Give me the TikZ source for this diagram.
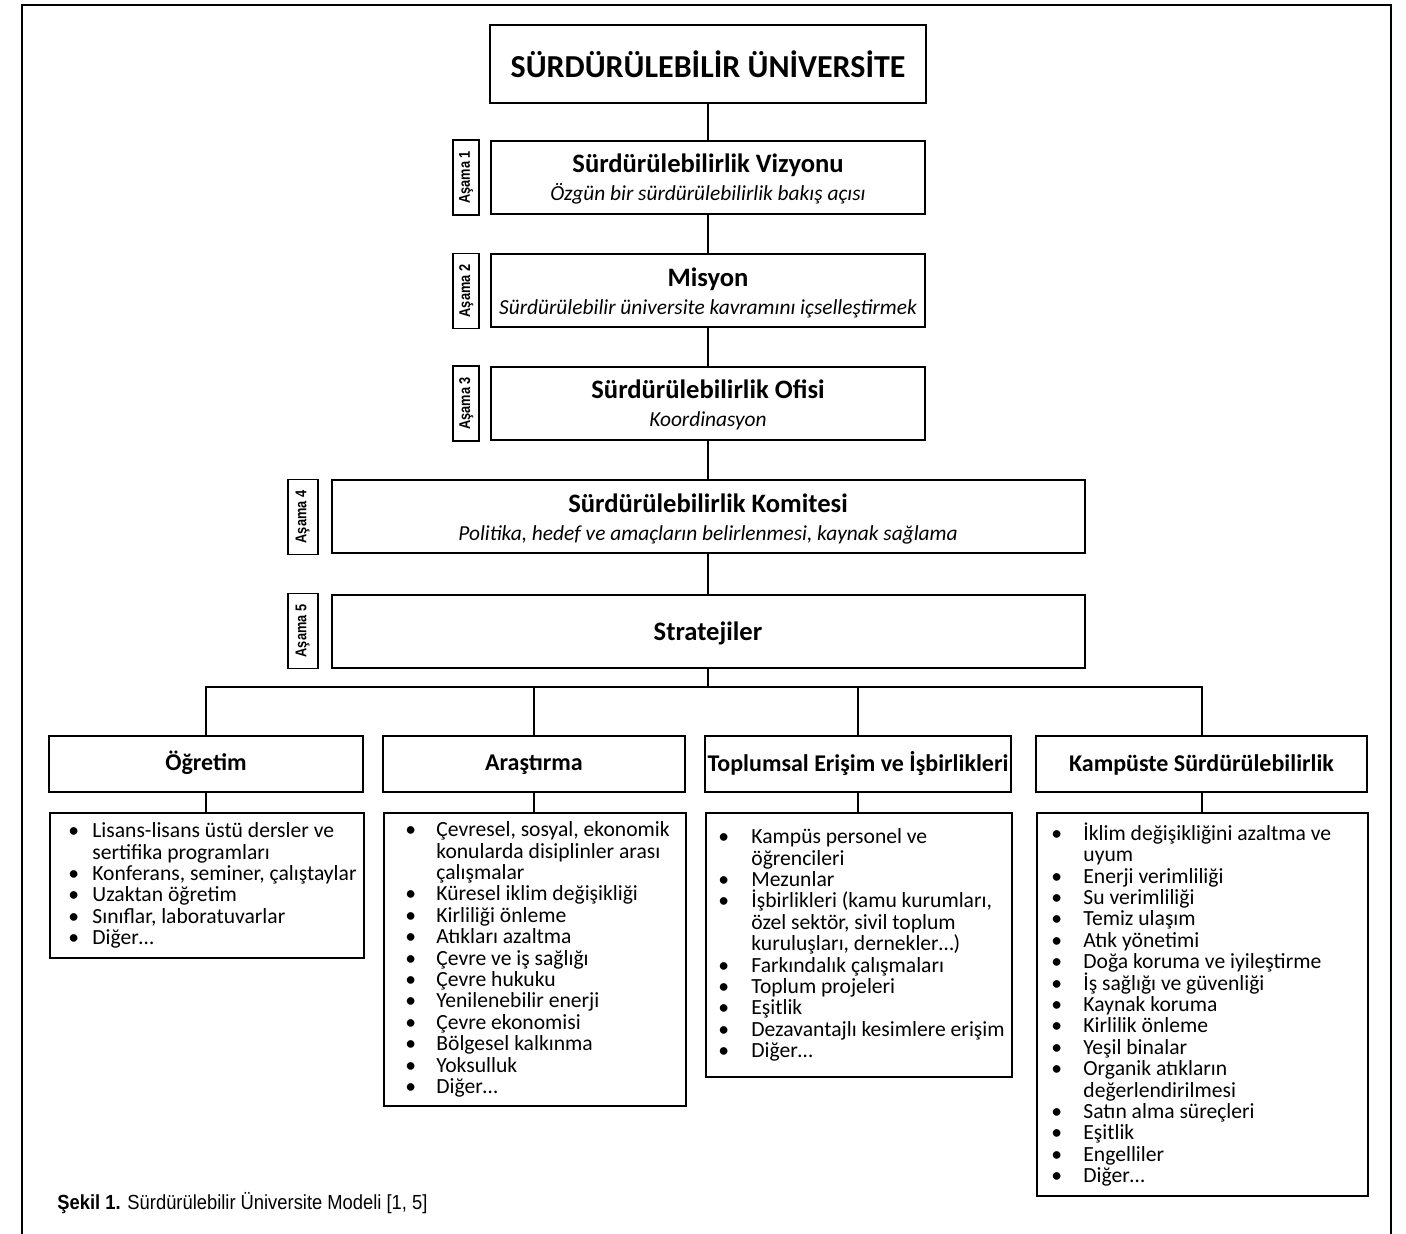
\documentclass[tikz,border=0pt]{standalone}
\usepackage{fontspec}
\usepackage{graphicx}
\setmainfont{Carlito}
\newfontfamily\narrowfont[FakeStretch=0.82]{Liberation Sans}
\newfontfamily\capfont[FakeStretch=0.9]{Liberation Sans}
\usetikzlibrary{positioning}

\newlength{\bulw}
\tikzset{
  box/.style={draw, line width=1pt, align=center, inner sep=0pt},
  stage/.style={box, minimum width=217pt, minimum height=36.5pt, text depth=0pt,
    font=\fontsize{10.7}{14}\selectfont},
  widestage/.style={stage, minimum width=376.5pt},
  stagelbl/.style={draw, line width=0.8pt, inner sep=0pt, minimum width=13pt, minimum height=37.5pt,
    font=\narrowfont\bfseries\fontsize{7.8}{9}\selectfont},
  cat/.style={box, minimum height=28pt, text height=9.5pt, text depth=2.5pt,
    font=\bfseries\fontsize{12}{14}\selectfont},
  listbox/.style={draw, line width=1pt, anchor=north west, inner sep=0pt},
  listtext/.style={align=left, inner sep=0pt, font=\fontsize{10.8}{10.7}\selectfont},
  conn/.style={line width=1pt}
}
\newcommand{\hd}[1]{{\bfseries\fontsize{13.3}{14}\selectfont #1}}
\newcommand{\subhd}[1]{{\itshape #1}}
\newcommand{\bul}{\makebox[\bulw][l]{\textbullet}}
\newcommand{\cnt}{\hspace*{\bulw}}

\begin{document}
\begin{tikzpicture}[x=0.5pt,y=-0.5pt]
  \useasboundingbox (0,0) rectangle (1406,1234);
  % outer frame, open at the bottom
  \draw[line width=1pt] (22,1234) -- (22,5) -- (1391,5) -- (1391,1234);

  \node[box, minimum width=218pt, minimum height=39pt, font=\bfseries\fontsize{16}{19}\selectfont]
    (top) at (708,64) {SÜRDÜRÜLEBİLİR ÜNİVERSİTE};

  % stages
  \node[stage] (v1) at (708,177.5) {\hd{Sürdürülebilirlik Vizyonu}\\\subhd{Özgün bir sürdürülebilirlik bakış açısı}};
  \node[stage] (v2) at (708,291) {\hd{Misyon}\\\subhd{Sürdürülebilir üniversite kavramını içselleştirmek}};
  \node[stage] (v3) at (708,403.5) {\hd{Sürdürülebilirlik Ofisi}\\\subhd{Koordinasyon}};
  \node[widestage] (v4) at (708,517) {\hd{Sürdürülebilirlik Komitesi}\\\subhd{Politika, hedef ve amaçların belirlenmesi, kaynak sağlama}};
  \node[widestage] (v5) at (708,631) {\hd{Stratejiler}};

  \node[stagelbl, left=5pt of v1] (a1) {\rotatebox{90}{Aşama 1}};
  \node[stagelbl, left=5pt of v2] (a2) {\rotatebox{90}{Aşama 2}};
  \node[stagelbl, left=5pt of v3] (a3) {\rotatebox{90}{Aşama 3}};
  \node[stagelbl, minimum width=15pt, left=6pt of v4] (a4) {\rotatebox{90}{Aşama 4}};
  \node[stagelbl, minimum width=15pt, left=6pt of v5] (a5) {\rotatebox{90}{Aşama 5}};

  \draw[conn] (top) -- (v1);
  \draw[conn] (v1) -- (v2);
  \draw[conn] (v2) -- (v3);
  \draw[conn] (v3) -- (v4);
  \draw[conn] (v4) -- (v5);

  % strategy areas
  \node[cat, minimum width=157pt] (c1) at (206,763.5) {Öğretim};
  \node[cat, minimum width=151pt] (c2) at (534,763.5) {Araştırma};
  \node[cat, minimum width=153pt] (c3) at (858,764) {Toplumsal Erişim ve İşbirlikleri};
  \node[cat, minimum width=165.5pt] (c4) at (1201.5,764) {Kampüste Sürdürülebilirlik};

  \coordinate (bus) at (708,687);
  \draw[conn] (v5) -- (bus);
  \draw[conn] (c1.north) |- (bus) -| (c4.north);
  \draw[conn] (c2.north) -- (c2.north |- bus);
  \draw[conn] (c3.north) -- (c3.north |- bus);

  % item lists
  \node[listbox, minimum width=157pt, minimum height=72.5pt] (l1) at (49,812) {};
  \node[listbox, minimum width=151pt, minimum height=146.5pt] (l2) at (383,812) {};
  \node[listbox, minimum width=153pt, minimum height=132pt] (l3) at (705,812) {};
  \node[listbox, minimum width=165.5pt, minimum height=191.5pt] (l4) at (1036,812) {};

  \foreach \i in {1,...,4}
    \draw[conn] (c\i.south) -- (c\i.south |- l\i.north);

  \global\bulw=12pt
  \node[listtext, right=9.5pt of l1.west] (t1) {%
    \bul Lisans-lisans üstü dersler ve\\
    \cnt sertifika programları\\
    \bul Konferans, seminer, çalıştaylar\\
    \bul Uzaktan öğretim\\
    \bul Sınıflar, laboratuvarlar\\
    \bul Diğer…};
  \global\bulw=15.5pt
  \node[listtext, right=11pt of l2.west] (t2) {%
    \bul Çevresel, sosyal, ekonomik\\
    \cnt konularda disiplinler arası\\
    \cnt çalışmalar\\
    \bul Küresel iklim değişikliği\\
    \bul Kirliliği önleme\\
    \bul Atıkları azaltma\\
    \bul Çevre ve iş sağlığı\\
    \bul Çevre hukuku\\
    \bul Yenilenebilir enerji\\
    \bul Çevre ekonomisi\\
    \bul Bölgesel kalkınma\\
    \bul Yoksulluk\\
    \bul Diğer…};
  \global\bulw=16.5pt
  \node[listtext, right=6.5pt of l3.west] (t3) {%
    \bul Kampüs personel ve\\
    \cnt öğrencileri\\
    \bul Mezunlar\\
    \bul İşbirlikleri (kamu kurumları,\\
    \cnt özel sektör, sivil toplum\\
    \cnt kuruluşları, dernekler…)\\
    \bul Farkındalık çalışmaları\\
    \bul Toplum projeleri\\
    \bul Eşitlik\\
    \bul Dezavantajlı kesimlere erişim\\
    \bul Diğer…};
  \global\bulw=16pt
  \node[listtext, right=7.5pt of l4.west] (t4) {%
    \bul İklim değişikliğini azaltma ve\\
    \cnt uyum\\
    \bul Enerji verimliliği\\
    \bul Su verimliliği\\
    \bul Temiz ulaşım\\
    \bul Atık yönetimi\\
    \bul Doğa koruma ve iyileştirme\\
    \bul İş sağlığı ve güvenliği\\
    \bul Kaynak koruma\\
    \bul Kirlilik önleme\\
    \bul Yeşil binalar\\
    \bul Organik atıkların\\
    \cnt değerlendirilmesi\\
    \bul Satın alma süreçleri\\
    \bul Eşitlik\\
    \bul Engelliler\\
    \bul Diğer…};

  \node[anchor=west, inner sep=0pt, font=\capfont\fontsize{10.2}{12}\selectfont] (cap) at (57,1203)
    {\textbf{Şekil 1.} Sürdürülebilir Üniversite Modeli [1, 5]};
\end{tikzpicture}
\end{document}
